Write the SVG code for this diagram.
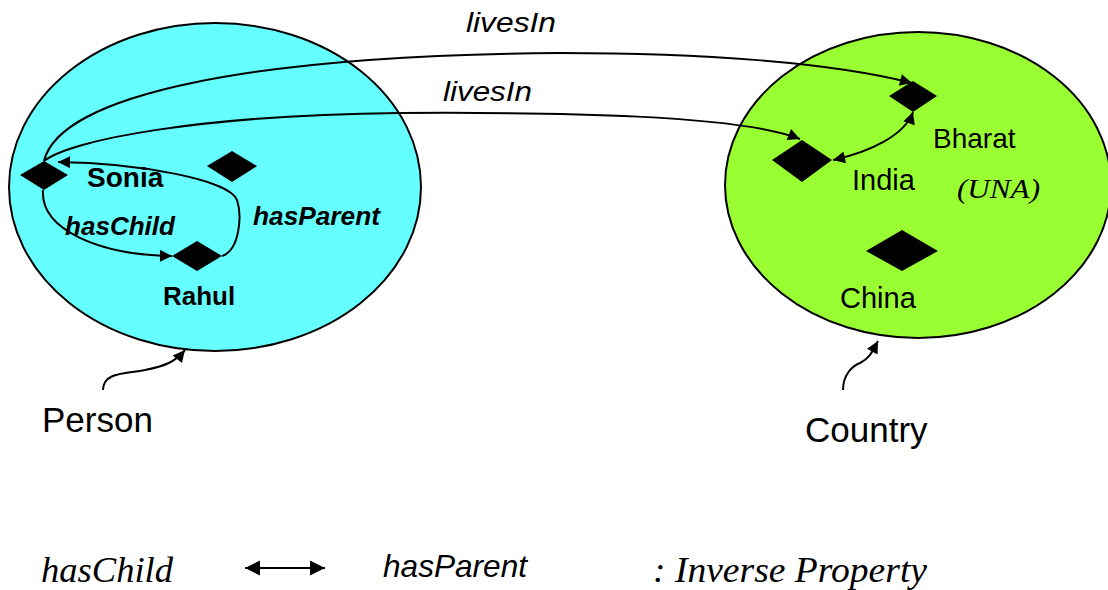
<svg xmlns="http://www.w3.org/2000/svg" width="1108" height="590" viewBox="0 0 1108 590">
<defs>
<marker id="ah" viewBox="0 0 10 10" refX="10" refY="5" markerWidth="15" markerHeight="12" markerUnits="userSpaceOnUse" orient="auto-start-reverse"><path d="M0,0 L10,5 L0,10 z" fill="#000"/></marker>
<marker id="ahL" viewBox="0 0 10 10" refX="10" refY="5" markerWidth="15" markerHeight="16" markerUnits="userSpaceOnUse" orient="auto-start-reverse"><path d="M0,0 L10,5 L0,10 z" fill="#000"/></marker>
</defs>
<style>
.set{stroke:#000;stroke-width:2}
.ind{fill:#000}
.con{fill:none;stroke:#000;stroke-width:2}
.sans{font-family:"Liberation Sans",Arial,sans-serif;fill:#000}
.serif{font-family:"Liberation Serif","Times New Roman",serif;fill:#000}
.b{font-weight:bold}
.i{font-style:italic}
</style>
<rect width="1108" height="590" fill="#fff"/>
<g id="person-set">
<ellipse class="set" cx="215" cy="187" rx="206" ry="164" fill="#66FFFF"/>
</g>
<g id="country-set">
<ellipse class="set" cx="918" cy="185" rx="193" ry="153" fill="#99FF33"/>
</g>
<g id="connectors">
<path class="con" d="M44,161 C60,95 250,55 560,53 C700,53 830,62 912,83" marker-end="url(#ah)"/>
<path class="con" d="M44,161 C70,140 200,115 400,113 C560,112 740,115 800,139" marker-end="url(#ah)"/>
<path class="con" d="M43,190 C40,230 100,255 172,256" marker-end="url(#ah)"/>
<path class="con" d="M222,256 C240,250 242,215 237,200 C230,180 140,163 58,162" marker-end="url(#ah)"/>
<path class="con" d="M833,160 C870,152 905,135 913,112" marker-start="url(#ah)" marker-end="url(#ah)"/>
<path class="con" d="M103,390 C103,372 125,374 145,370 C165,366 175,362 185,350" marker-end="url(#ah)"/>
<path class="con" d="M843,390 C843,375 852,366 860,363 C870,358 872,352 878,341" marker-end="url(#ah)"/>
<path class="con" d="M245,568 L325,568" marker-start="url(#ahL)" marker-end="url(#ahL)"/>
</g>
<g id="sonia"><polygon class="ind" points="20,175 44,161 68,175 44,190"/><text class="sans b" x="87" y="187" font-size="28">Sonia</text></g>
<g id="anon-person"><polygon class="ind" points="207,166 232,151 257,166 232,182"/></g>
<g id="rahul"><polygon class="ind" points="172,256 197,241 222,256 197,271"/><text class="sans b" x="163" y="305" font-size="26">Rahul</text></g>
<g id="bharat"><polygon class="ind" points="889,96 913,81 937,96 913,112"/><text class="sans" x="933" y="148" font-size="28">Bharat</text></g>
<g id="india"><polygon class="ind" points="772,160 802,140 832,160 802,182"/><text class="sans" x="852" y="190" font-size="29">India</text></g>
<g id="china"><polygon class="ind" points="866,251 902,230 938,251 902,271"/><text class="sans" x="840" y="308" font-size="29">China</text></g>
<g id="labels">
<text class="sans i" x="466" y="32" font-size="27" textLength="90" lengthAdjust="spacingAndGlyphs">livesIn</text>
<text class="sans i" x="443" y="101" font-size="27" textLength="89" lengthAdjust="spacingAndGlyphs">livesIn</text>
<text class="sans b i" x="65" y="235" font-size="26" textLength="110" lengthAdjust="spacingAndGlyphs">hasChild</text>
<text class="sans b i" x="253" y="225" font-size="26" textLength="127" lengthAdjust="spacingAndGlyphs">hasParent</text>
<text class="serif i" x="957" y="198" font-size="27" textLength="83" lengthAdjust="spacingAndGlyphs">(UNA)</text>
<text class="sans" x="42" y="432" font-size="35">Person</text>
<text class="sans" x="805" y="442" font-size="35">Country</text>
</g>
<g id="legend">
<text class="serif i" x="41" y="582" font-size="35" textLength="132" lengthAdjust="spacingAndGlyphs">hasChild</text>
<text class="sans i" x="383" y="577" font-size="32" textLength="144" lengthAdjust="spacingAndGlyphs">hasParent</text>
<text class="serif i" x="653" y="582" font-size="36" textLength="274" lengthAdjust="spacingAndGlyphs">: Inverse  Property</text>
</g>
</svg>
